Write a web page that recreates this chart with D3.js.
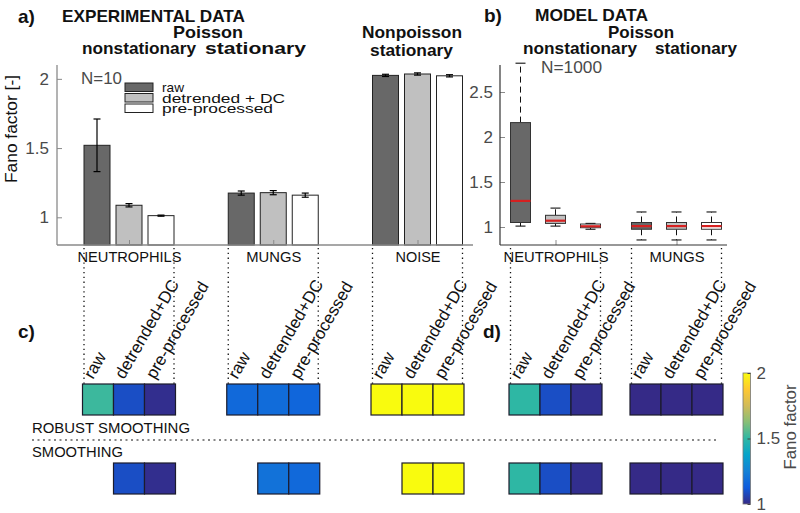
<!DOCTYPE html>
<html><head><meta charset="utf-8">
<script src="https://cdn.jsdelivr.net/npm/d3@7"></script>
<style>body{margin:0;background:#fff} text{font-family:"Liberation Sans",Arial,sans-serif}</style>
</head><body><svg id="chart" width="800" height="513"></svg>
<script>
// ---------- data ----------
const groupsA = ["NEUTROPHILS", "MUNGS", "NOISE"];
const groupsB = ["NEUTROPHILS", "MUNGS"];
const methods = ["raw", "detrended + DC", "pre-processed"];
const methodLabels = ["raw", "detrended+DC", "pre-processed"];
const rows = ["ROBUST SMOOTHING", "SMOOTHING"];
const yTicksA = [1, 1.5, 2];
const yTicksB = [1, 1.5, 2, 2.5];
const cbTicks = [1, 1.5, 2];

// experimental means and error (half-length)
const expNeutrophils = [1.52, 1.087, 1.012];
const expMungs = [1.175, 1.178, 1.160];
const expNoise = [2.025, 2.035, 2.022];
const errNeutrophils = [0.19, 0.012, 0.004];
const errMungs = [0.015, 0.015, 0.015];
const errNoise = [0.008, 0.008, 0.008];

// model boxplots: [min, q1, median, q3, max]
const boxNeutrophils = [[1.01, 1.05, 1.29, 2.16, 2.82], [1.01, 1.04, 1.07, 1.13, 1.21], [0.975, 0.992, 1.008, 1.033, 1.04]];
const boxMungs = [[0.856, 0.975, 1.01, 1.05, 1.167], [0.856, 0.975, 1.01, 1.05, 1.167], [0.856, 0.975, 1.01, 1.05, 1.167]];

// heat maps (Fano factor), null = no cell
const heatExpRobust = [[1.52, 1.09, 1.01], [1.17, 1.18, 1.16], [2.03, 2.035, 2.02]];
const heatExpSmooth = [[null, 1.09, 1.01], [null, 1.20, 1.17], [null, 2.03, 2.02]];
const heatModelRobust = [[1.50, 1.09, 1.01], [1.0, 1.0, 1.0]];
const heatModelSmooth = [[1.50, 1.09, 1.01], [1.0, 1.0, 1.0]];

const parula = ["#352A87", "#0F5CDD", "#1481D6", "#06A4CA", "#2EB7A4", "#87BF77", "#D1BB59", "#FEC832", "#F9FB0E"];
const barFill = ["#686868", "#c0c0c0", "#ffffff"];

// ---------- setup ----------
const svg = d3.select("#chart");
const AX = "#8a8a8a", TK = "#4a4a4a";
const col = d3.scaleLinear().domain(parula.map((c, i) => 1 + i / 8)).range(parula).clamp(true);

function txt(x, y, s, o = {}) {
  const t = svg.append("text").attr("x", x).attr("y", y).text(s)
    .attr("font-size", o.size || 16).attr("font-weight", o.bold ? "bold" : null)
    .attr("fill", o.fill || "#111").attr("text-anchor", o.anchor || "start");
  if (o.len) t.attr("textLength", o.len).attr("lengthAdjust", "spacingAndGlyphs");
  if (o.rot != null) t.attr("transform", `rotate(${o.rot},${x},${y})`);
  return t;
}

// ---------- scales ----------
const yA = d3.scaleLinear().domain([0.8, 2.1]).range([245, 65]);
const xA = d3.scalePoint().domain(groupsA).range([129, 417.5]);
const subA = d3.scaleBand().domain(methods).range([-45, 45]).paddingInner(6 / 32);
const yB = d3.scaleLinear().domain([0.8, 2.8]).range([245, 65]);
const xB = d3.scalePoint().domain(groupsB).range([555.5, 676.5]);
const subB = d3.scaleBand().domain(methods).range([-45, 45]).paddingInner(15 / 35);
const cell = d3.scaleBand().domain(methods).range([-46.5, 46.5]);
const yRow = d3.scaleBand().domain(rows).range([384, 494]).paddingInner(48 / 79);
const yCb = d3.scaleLinear().domain([1, 2]).range([504, 373]);

// ---------- titles ----------
txt(18, 23, "a)", { size: 19, bold: true });
txt(62, 22, "EXPERIMENTAL DATA", { size: 17, bold: true, len: 183 });
txt(173, 38, "Poisson", { size: 17, bold: true, len: 70 });
txt(82, 54, "nonstationary", { size: 17, bold: true, len: 114 });
txt(205, 54, "stationary", { size: 17, bold: true, len: 101 });
txt(362, 38, "Nonpoisson", { size: 17, bold: true, len: 100 });
txt(370, 56, "stationary", { size: 17, bold: true, len: 83 });
txt(484, 22, "b)", { size: 19, bold: true });
txt(535, 21, "MODEL DATA", { size: 17, bold: true, len: 113 });
txt(608, 38, "Poisson", { size: 17, bold: true, len: 66 });
txt(523, 54, "nonstationary", { size: 17, bold: true, len: 114 });
txt(655, 54, "stationary", { size: 17, bold: true, len: 82 });
txt(18, 338, "c)", { size: 19, bold: true });
txt(483, 338, "d)", { size: 19, bold: true });

// ---------- panel a ----------
const gA = svg.append("g");
const expMean = [expNeutrophils, expMungs, expNoise];
const expErr = [errNeutrophils, errMungs, errNoise];
groupsA.forEach((g, gi) => {
  methods.forEach((m, mi) => {
    const x0 = xA(g) + subA(m), w = subA.bandwidth(), v = expMean[gi][mi], e = expErr[gi][mi];
    gA.append("rect").attr("x", x0).attr("y", yA(v)).attr("width", w).attr("height", yA(0.8) - yA(v))
      .attr("fill", barFill[mi]).attr("stroke", "#222").attr("stroke-width", 1);
    const cx = x0 + w / 2;
    gA.append("line").attr("x1", cx).attr("x2", cx).attr("y1", yA(v - e)).attr("y2", yA(v + e)).attr("stroke", "#000").attr("stroke-width", 1.2);
    [v - e, v + e].forEach(vv => gA.append("line").attr("x1", cx - 3.5).attr("x2", cx + 3.5).attr("y1", yA(vv)).attr("y2", yA(vv)).attr("stroke", "#000").attr("stroke-width", 1.2));
  });
});
// axes a
gA.append("line").attr("x1", 57).attr("x2", 57).attr("y1", 65).attr("y2", 245).attr("stroke", AX).attr("stroke-width", 1.3);
gA.append("line").attr("x1", 57).attr("x2", 473).attr("y1", 245).attr("y2", 245).attr("stroke", AX).attr("stroke-width", 1.3);
const axYA = svg.append("g").attr("transform", "translate(57,0)")
  .call(d3.axisLeft(yA).tickValues(yTicksA).tickFormat(d3.format("")).tickSize(-5).tickSizeOuter(0).tickPadding(8));
const axXA = svg.append("g").attr("transform", "translate(0,245)")
  .call(d3.axisBottom(xA).tickSize(-5).tickSizeOuter(0).tickPadding(7));
const axYB = svg.append("g").attr("transform", "translate(500,0)")
  .call(d3.axisLeft(yB).tickValues(yTicksB).tickFormat(d3.format("")).tickSize(-5).tickSizeOuter(0).tickPadding(7));
const axXB = svg.append("g").attr("transform", "translate(0,245)")
  .call(d3.axisBottom(xB).tickSize(-5).tickSizeOuter(0).tickPadding(7));
[axYA, axXA, axYB, axXB].forEach(a => { a.select(".domain").remove(); a.selectAll(".tick line").attr("stroke", AX); });
[axYA, axYB].forEach(a => a.selectAll(".tick text").attr("font-size", 17).attr("fill", TK).attr("font-family", "Liberation Sans, Arial"));
[axXA, axXB].forEach(a => a.selectAll(".tick text").attr("font-size", 14.5).attr("fill", "#111").attr("font-family", "Liberation Sans, Arial"));
axXA.selectAll(".tick text").each(function (d) { d3.select(this).attr("textLength", d === "NOISE" ? 45 : d === "MUNGS" ? 55 : 104).attr("lengthAdjust", "spacingAndGlyphs"); });
axXB.selectAll(".tick text").each(function (d) { d3.select(this).attr("textLength", d === "MUNGS" ? 55 : 105).attr("lengthAdjust", "spacingAndGlyphs"); });

txt(17, 129, "Fano factor [-]", { size: 16, anchor: "middle", rot: -90, len: 108 });
txt(81, 84, "N=10", { size: 17, fill: TK, len: 41 });
// legend
methods.forEach((m, i) => {
  const y0 = [83, 93.5, 104][i];
  gA.append("rect").attr("x", 125).attr("y", y0).attr("width", 28).attr("height", 8.5).attr("fill", barFill[i]).attr("stroke", "#222").attr("stroke-width", 1);
  txt(162, y0 + 9, m, { size: 13.5, len: [22, 123, 111][i] });
});

// ---------- panel b ----------
const gB = svg.append("g");
gB.append("line").attr("x1", 500).attr("x2", 500).attr("y1", 65).attr("y2", 245).attr("stroke", "#333").attr("stroke-width", 1.2);
gB.append("line").attr("x1", 500).attr("x2", 727).attr("y1", 245).attr("y2", 245).attr("stroke", "#333").attr("stroke-width", 1.2);
const boxes = [boxNeutrophils, boxMungs];
groupsB.forEach((g, gi) => {
  methods.forEach((m, mi) => {
    const [mn, q1, md, q3, mx] = boxes[gi][mi];
    const x0 = xB(g) + subB(m), w = subB.bandwidth(), cx = x0 + w / 2;
    gB.append("line").attr("x1", cx).attr("x2", cx).attr("y1", yB(q3)).attr("y2", yB(mx)).attr("stroke", "#111").attr("stroke-dasharray", "6,4");
    gB.append("line").attr("x1", cx).attr("x2", cx).attr("y1", yB(q1)).attr("y2", yB(mn)).attr("stroke", "#111").attr("stroke-dasharray", "6,4");
    [mn, mx].forEach(v => gB.append("line").attr("x1", cx - 5).attr("x2", cx + 5).attr("y1", yB(v)).attr("y2", yB(v)).attr("stroke", "#111").attr("stroke-width", 1.1));
    gB.append("rect").attr("x", x0).attr("y", yB(q3)).attr("width", w).attr("height", yB(q1) - yB(q3))
      .attr("fill", barFill[mi]).attr("stroke", "#333").attr("stroke-width", 1);
    gB.append("line").attr("x1", x0).attr("x2", x0 + w).attr("y1", yB(md)).attr("y2", yB(md)).attr("stroke", "#d62020").attr("stroke-width", 2.2);
  });
});
txt(541, 73, "N=1000", { size: 17, fill: TK, len: 61 });

// ---------- dotted connector lines ----------
const gD = svg.append("g").attr("stroke", "#111").attr("stroke-width", 1.3).attr("stroke-dasharray", "1.3,3.5");
groupsA.forEach(g => {
  [xA(g) + subA(methods[0]), xA(g) + subA(methods[2]) + subA.bandwidth()].forEach(x =>
    gD.append("line").attr("x1", x).attr("x2", x).attr("y1", 248).attr("y2", 384));
});
groupsB.forEach(g => {
  [xB(g) + subB(methods[0]), xB(g) + subB(methods[2]) + subB.bandwidth()].forEach(x =>
    gD.append("line").attr("x1", x).attr("x2", x).attr("y1", 248).attr("y2", 384));
});
gD.append("line").attr("x1", 32).attr("x2", 718).attr("y1", 440).attr("y2", 440).attr("stroke-dasharray", "2,3.5").attr("stroke-width", 1.2);
txt(32, 433, "ROBUST SMOOTHING", { size: 15, len: 158 });
txt(32, 457, "SMOOTHING", { size: 15, len: 91 });

// ---------- heat maps ----------
const gH = svg.append("g");
function heat(xScale, groups, data, row) {
  groups.forEach((g, gi) => {
    methods.forEach((m, mi) => {
      const v = data[gi][mi];
      if (v == null) return;
      gH.append("rect").attr("x", xScale(g) + cell(m)).attr("y", yRow(row)).attr("width", cell.bandwidth()).attr("height", yRow.bandwidth())
        .attr("fill", col(v)).attr("stroke", "#1c1c2c").attr("stroke-width", 1.2);
    });
  });
}
heat(xA, groupsA, heatExpRobust, rows[0]);
heat(xA, groupsA, heatExpSmooth, rows[1]);
heat(xB, groupsB, heatModelRobust, rows[0]);
heat(xB, groupsB, heatModelSmooth, rows[1]);

// rotated method labels
function rotLabels(xScale, groups) {
  groups.forEach(g => methods.forEach((m, mi) => {
    const x = xScale(g) + cell(m) + cell.bandwidth() / 2 - 5;
    txt(x, 380, methodLabels[mi], { size: 17, rot: -60 });
  }));
}
rotLabels(xA, groupsA);
rotLabels(xB, groupsB);

// ---------- colorbar ----------
const defs = svg.append("defs");
const grad = defs.append("linearGradient").attr("id", "cb").attr("x1", 0).attr("y1", 1).attr("x2", 0).attr("y2", 0);
parula.forEach((c, i) => grad.append("stop").attr("offset", i / 8).attr("stop-color", c));
svg.append("rect").attr("x", 743).attr("y", yCb(2)).attr("width", 7.5).attr("height", yCb(1) - yCb(2))
  .attr("fill", "url(#cb)").attr("stroke", "#777").attr("stroke-width", 0.8);
const axCb = svg.append("g").attr("transform", "translate(750.5,0)")
  .call(d3.axisRight(yCb).tickValues(cbTicks).tickFormat(d3.format("")).tickSize(-3).tickSizeOuter(0).tickPadding(6));
axCb.select(".domain").remove();
axCb.selectAll(".tick line").attr("stroke", "#444");
axCb.selectAll(".tick text").attr("font-size", 17).attr("fill", TK).attr("font-family", "Liberation Sans, Arial");
txt(796, 427, "Fano factor", { size: 17, anchor: "middle", rot: -90, fill: TK, len: 85 });
</script></body></html>
